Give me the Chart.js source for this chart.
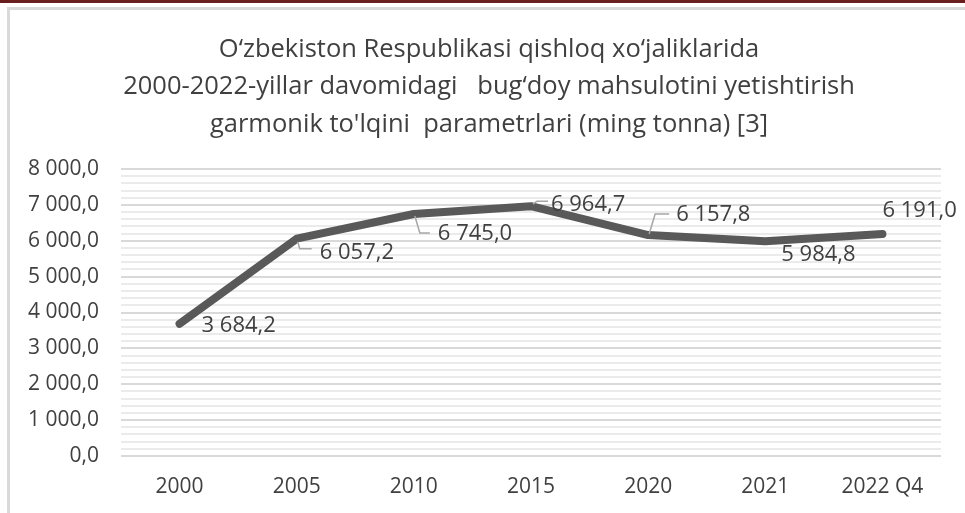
<!DOCTYPE html>
<html>
<head>
<meta charset="utf-8">
<script src="https://cdn.jsdelivr.net/npm/chart.js@4.4.0/dist/chart.umd.min.js"></script>
<style>
  body { margin: 0; background: #fff; overflow: hidden; }
  .topbar { position: absolute; left: 0; top: 0; width: 965px; height: 3px; background: #6a1e1e; }
  .frame { position: absolute; left: 7px; top: 7px; width: 990px; height: 540px; border: 3px solid #dadada; }
  .wrap { position: absolute; left: 0; top: 0; width: 965px; height: 513px; }
</style>
</head>
<body>
<div class="topbar"></div>
<div class="frame"></div>
<div class="wrap"><canvas id="myChart" width="965" height="513"></canvas></div>
<script>
const categories = ["2000", "2005", "2010", "2015", "2020", "2021", "2022 Q4"];
const harvest = [3684.2, 6057.2, 6745.0, 6964.7, 6157.8, 5984.8, 6191.0];
const yTicks = [0, 1000, 2000, 3000, 4000, 5000, 6000, 7000, 8000];
const titleLines = [
  "O‘zbekiston Respublikasi qishloq xo‘jaliklarida",
  "2000-2022-yillar davomidagi   bug‘doy mahsulotini yetishtirish",
  "garmonik to'lqini  parametrlari (ming tonna) [3]"
];

// label placement next to each point: text left offset, vertical centre offset, leader line
const labelPos = [
  { dx: 22, dy: 2 },
  { dx: 23, dy: 14, lead: [[1, 3], [3, 10], [15, 10]] },
  { dx: 24, dy: 20, lead: [[1, 2], [6, 19], [16, 19]] },
  { dx: 20, dy: -1, lead: [[2, -2], [6, -5], [17, -5]] },
  { dx: 28, dy: -20, lead: [[1, -1], [7, -21], [21, -21]] },
  { dx: 16, dy: 13 },
  { dx: 0, dy: -23 }
];

const FONT = "'Open Sans', sans-serif";
const TEXT = "#404040";

function fmt(v) {
  const parts = v.toFixed(1).split(".");
  return parts[0].replace(/\B(?=(\d{3})+(?!\d))/g, " ") + "," + parts[1];
}

const titlePlugin = {
  id: "titleLines",
  afterDraw(chart) {
    const ctx = chart.ctx;
    ctx.save();
    ctx.font = "25.5px " + FONT;
    ctx.fillStyle = TEXT;
    ctx.textAlign = "center";
    ctx.textBaseline = "middle";
    const ys = [50, 87, 125];
    titleLines.forEach((t, i) => ctx.fillText(t, 489, ys[i]));
    ctx.restore();
  }
};

const labelPlugin = {
  id: "pointLabels",
  afterDatasetsDraw(chart) {
    const ctx = chart.ctx;
    const meta = chart.getDatasetMeta(0);
    ctx.save();
    meta.data.forEach((pt, i) => {
      const p = labelPos[i];
      if (p.lead) {
        ctx.beginPath();
        ctx.strokeStyle = "#a6a6a6";
        ctx.lineWidth = 1.5;
        p.lead.forEach((q, k) => {
          if (k === 0) ctx.moveTo(pt.x + q[0], pt.y + q[1]);
          else ctx.lineTo(pt.x + q[0], pt.y + q[1]);
        });
        ctx.stroke();
      }
      ctx.font = "22px " + FONT;
      ctx.fillStyle = TEXT;
      ctx.textAlign = "left";
      ctx.textBaseline = "middle";
      ctx.fillText(fmt(harvest[i]), pt.x + p.dx, pt.y + p.dy);
    });
    ctx.restore();
  }
};

const ctx = document.getElementById("myChart").getContext("2d");
new Chart(ctx, {
  type: "line",
  data: {
    labels: categories,
    datasets: [{
      data: harvest,
      borderColor: "#595959",
      borderWidth: 8,
      borderCapStyle: "round",
      borderJoinStyle: "round",
      pointRadius: 0,
      tension: 0
    }]
  },
  options: {
    responsive: false,
    animation: false,
    layout: { padding: { left: 0, right: 24, top: 169, bottom: 0 } },
    plugins: { legend: { display: false }, title: { display: false }, tooltip: { enabled: false } },
    scales: {
      x: {
        offset: true,
        grid: { display: false, drawTicks: false },
        border: { display: false },
        afterFit(scale) { scale.height = 57; },
        ticks: { font: { family: FONT, size: 21 }, color: TEXT, padding: 18, maxRotation: 0 }
      },
      y: {
        min: 0,
        max: yTicks[yTicks.length - 1],
        border: { display: false },
        afterFit(scale) { scale.width = 121; },
        grid: {
          drawTicks: false,
          color: c => (yTicks.includes(c.tick.value) ? "#d9d9d9" : "#ebebeb"),
          lineWidth: 2
        },
        ticks: {
          stepSize: 200,
          autoSkip: false,
          padding: 22,
          font: { family: FONT, size: 21 },
          color: TEXT,
          callback: v => (yTicks.includes(v) ? fmt(v) : "")
        }
      }
    }
  },
  plugins: [titlePlugin, labelPlugin]
});
</script>
</body>
</html>
